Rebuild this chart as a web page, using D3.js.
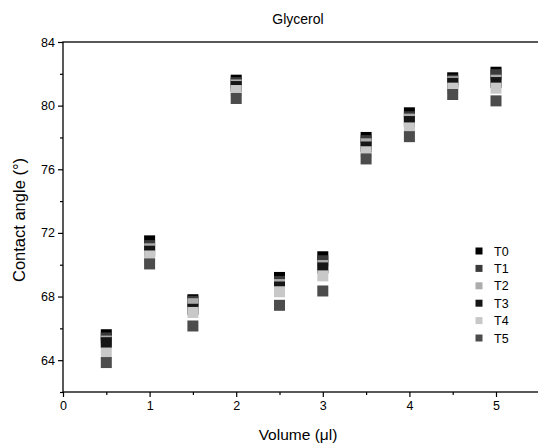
<!DOCTYPE html>
<html>
<head>
<meta charset="utf-8">
<script src="https://cdn.jsdelivr.net/npm/d3@7"></script>
<style>
  html, body { margin: 0; padding: 0; background: #fff; }
  svg { display: block; font-family: "Liberation Sans", Arial, sans-serif; }
</style>
</head>
<body>
<svg id="chart" width="538" height="446"></svg>
<script>
// Contact angle of glycerol drops vs. drop volume, six time points
const volumes = [0.5, 1, 1.5, 2, 2.5, 3, 3.5, 4, 4.5, 5];
const seriesNames = ["T0", "T1", "T2", "T3", "T4", "T5"];
const T0 = [65.6, 71.5, 67.8, 81.6, 69.2, 70.5, 78.0, 79.55, 81.75, 82.1];
const T1 = [65.4, 71.2, 67.7, 81.45, 68.95, 70.25, 77.8, 79.3, 81.6, 81.95];
const T2 = [65.2, 71.0, 67.55, 81.3, 68.75, 69.95, 77.6, 79.15, 81.5, 81.6];
const T3 = [65.1, 70.85, 67.2, 81.2, 68.6, 69.8, 77.4, 79.0, 81.4, 81.45];
const T4 = [64.45, 70.55, 67.0, 80.95, 68.3, 69.3, 77.1, 78.6, 81.1, 81.1];
const T5 = [63.85, 70.05, 66.15, 80.45, 67.45, 68.35, 76.65, 78.05, 80.7, 80.3];
const seriesValues = [T0, T1, T2, T3, T4, T5];
const seriesColors = ["#000000", "#3a3a3a", "#acacac", "#161616", "#c8c8c8", "#4c4c4c"];
const xTicks = [0, 1, 2, 3, 4, 5];
const yTicks = [64, 68, 72, 76, 80, 84];

const svg = d3.select("#chart");
const plotLeft = 63, plotTop = 42, plotBottom = 392;

const x = d3.scaleLinear().domain([0, 5.5]).range([plotLeft, plotLeft + 5.5 * 86.6]);
const y = d3.scaleLinear().domain([62, 84]).range([plotBottom, plotTop]);

// Frame
svg.append("rect")
  .attr("x", x(0)).attr("y", y(84))
  .attr("width", x(5.5) - x(0)).attr("height", y(62) - y(84))
  .attr("fill", "none").attr("stroke", "#000").attr("stroke-width", 1.3);

// Axes with major and minor ticks
const xAxis = d3.axisBottom(x).tickValues(xTicks).tickSize(5).tickPadding(4).tickFormat(d3.format("d"));
const xMinor = d3.axisBottom(x).tickValues(d3.range(0.5, 5.5, 1)).tickSize(3).tickFormat("");
const yAxis = d3.axisLeft(y).tickValues(yTicks).tickSize(5).tickPadding(3).tickFormat(d3.format("d"));
const yMinor = d3.axisLeft(y).tickValues(d3.range(62, 84, 4)).tickSize(3).tickFormat("");

function styleAxis(g) {
  g.select(".domain").remove();
  g.selectAll("line").attr("stroke", "#000").attr("stroke-width", 1.2);
  g.selectAll("text").attr("fill", "#000").style("font-size", "12.5px")
    .style("font-family", "'Liberation Sans', Arial, sans-serif");
}
svg.append("g").attr("transform", `translate(0,${plotBottom})`).call(xAxis).call(styleAxis);
svg.append("g").attr("transform", `translate(0,${plotBottom})`).call(xMinor).call(styleAxis);
svg.append("g").attr("transform", `translate(${plotLeft},0)`).call(yAxis).call(styleAxis);
svg.append("g").attr("transform", `translate(${plotLeft},0)`).call(yMinor).call(styleAxis);

// Square markers, series drawn in order so later ones sit on top
const size = 11;
seriesValues.forEach((vals, i) => {
  svg.append("g").selectAll("rect")
    .data(vals.map((v, j) => ({ v: volumes[j], a: v })))
    .join("rect")
    .attr("x", d => x(d.v) - size / 2)
    .attr("y", d => y(d.a) - size / 2)
    .attr("width", size).attr("height", size)
    .attr("fill", seriesColors[i]);
});

// Legend
const leg = svg.append("g").attr("transform", "translate(479,251)");
seriesNames.forEach((name, i) => {
  const row = leg.append("g").attr("transform", `translate(0,${i * 17.4})`);
  row.append("rect").attr("x", -3.5).attr("y", -3.5).attr("width", 7).attr("height", 7)
    .attr("fill", seriesColors[i]);
  row.append("text").attr("x", 15).attr("y", 4.5).text(name)
    .style("font-size", "12.5px").attr("fill", "#000");
});

// Titles
svg.append("text").attr("x", 298).attr("y", 24).attr("text-anchor", "middle")
  .style("font-size", "14px").text("Glycerol");
svg.append("text").attr("x", 298).attr("y", 440).attr("text-anchor", "middle")
  .style("font-size", "15.5px").text("Volume (μl)");
svg.append("text").attr("transform", "translate(25,220) rotate(-90)").attr("text-anchor", "middle")
  .style("font-size", "16.5px").text("Contact angle (°)");
</script>
</body>
</html>
